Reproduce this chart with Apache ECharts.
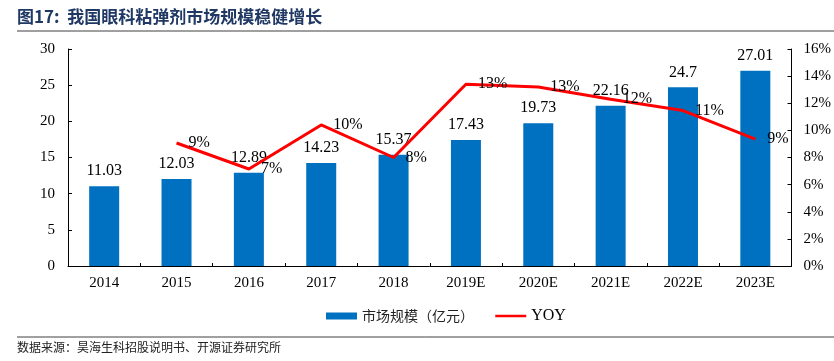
<!DOCTYPE html>
<html><head><meta charset="utf-8">
<script src="https://cdn.jsdelivr.net/npm/echarts@6/dist/echarts.min.js"></script>
<style>html,body{margin:0;padding:0;background:#fff}#c{width:834px;height:361px}</style>
</head><body><div id="c"></div>
<script>
const categories = ['2014','2015','2016','2017','2018','2019E','2020E','2021E','2022E','2023E'];
const marketSize = [11.03,12.03,12.89,14.23,15.37,17.43,19.73,22.16,24.7,27.01];
const yoy = [null,9.07,7.15,10.4,8.0,13.4,13.2,12.3,11.46,9.35];
const leftTicks = {min:0,max:30,interval:5};
const rightTicks = {min:0,max:16,interval:2};

const serif = '"Liberation Serif","Times New Roman",serif';
const cjk = '"Noto Sans CJK SC","Liberation Serif",serif';
const chart = echarts.init(document.getElementById('c'));
chart.setOption({
  animation:false,
  backgroundColor:'#fff',
  graphic:[
    {type:'text',left:17,top:8,style:{text:'图17:  我国眼科粘弹剂市场规模稳健增长',font:'bold 17px '+cjk,fill:'#1F3864'}},
    {type:'line',shape:{x1:17,y1:31,x2:834,y2:31},style:{stroke:'#404040',lineWidth:1.2}},
    {type:'line',shape:{x1:17,y1:337,x2:834,y2:337},style:{stroke:'#404040',lineWidth:1}},
    {type:'text',left:17,top:341,style:{text:'数据来源：昊海生科招股说明书、开源证券研究所',font:'12px '+cjk,fill:'#222'}}
  ],
  grid:{left:68,right:41,top:49,bottom:95},
  legend:{
    top:303,left:321,itemGap:20,
    textStyle:{fontFamily:cjk,fontSize:14,color:'#222'},
    data:[
      {name:'市场规模（亿元）',icon:'rect',itemStyle:{color:'#0070C0'}},
      {name:'YOY',itemStyle:{opacity:0},lineStyle:{width:2.5},textStyle:{fontFamily:serif,fontSize:16,color:'#000'}}
    ],
    itemWidth:31,itemHeight:7
  },
  xAxis:{
    type:'category',data:categories,
    axisLine:{lineStyle:{color:'#000',width:1}},
    axisTick:{show:true,inside:true,length:3,lineStyle:{color:'#000'}},
    axisLabel:{color:'#000',fontFamily:serif,fontSize:15,margin:10}
  },
  yAxis:[
    {type:'value',min:leftTicks.min,max:leftTicks.max,interval:leftTicks.interval,
     splitLine:{show:false},
     axisLine:{show:true,lineStyle:{color:'#000'}},
     axisTick:{show:true,inside:true,length:4,lineStyle:{color:'#000'}},
     axisLabel:{color:'#000',fontFamily:serif,fontSize:15,margin:13}},
    {type:'value',min:rightTicks.min,max:rightTicks.max,interval:rightTicks.interval,
     splitLine:{show:false},
     axisLine:{show:true,lineStyle:{color:'#000'}},
     axisTick:{show:true,inside:true,length:4,lineStyle:{color:'#000'}},
     axisLabel:{color:'#000',fontFamily:serif,fontSize:15,margin:12,formatter:'{value}%'}}
  ],
  series:[
    {name:'市场规模（亿元）',type:'bar',data:marketSize,barWidth:30,
     itemStyle:{color:'#0070C0'},
     label:{show:true,position:'top',distance:7,color:'#000',fontFamily:serif,fontSize:16}},
    {name:'YOY',type:'line',yAxisIndex:1,data:yoy,symbol:'circle',symbolSize:0,showSymbol:true,
     lineStyle:{color:'#FF0000',width:3},itemStyle:{color:'#FF0000'},
     label:{show:true,position:'right',distance:12,color:'#000',fontFamily:serif,fontSize:16,
       formatter:p=>Math.round(p.value)+'%'}}
  ]
});
</script></body></html>
